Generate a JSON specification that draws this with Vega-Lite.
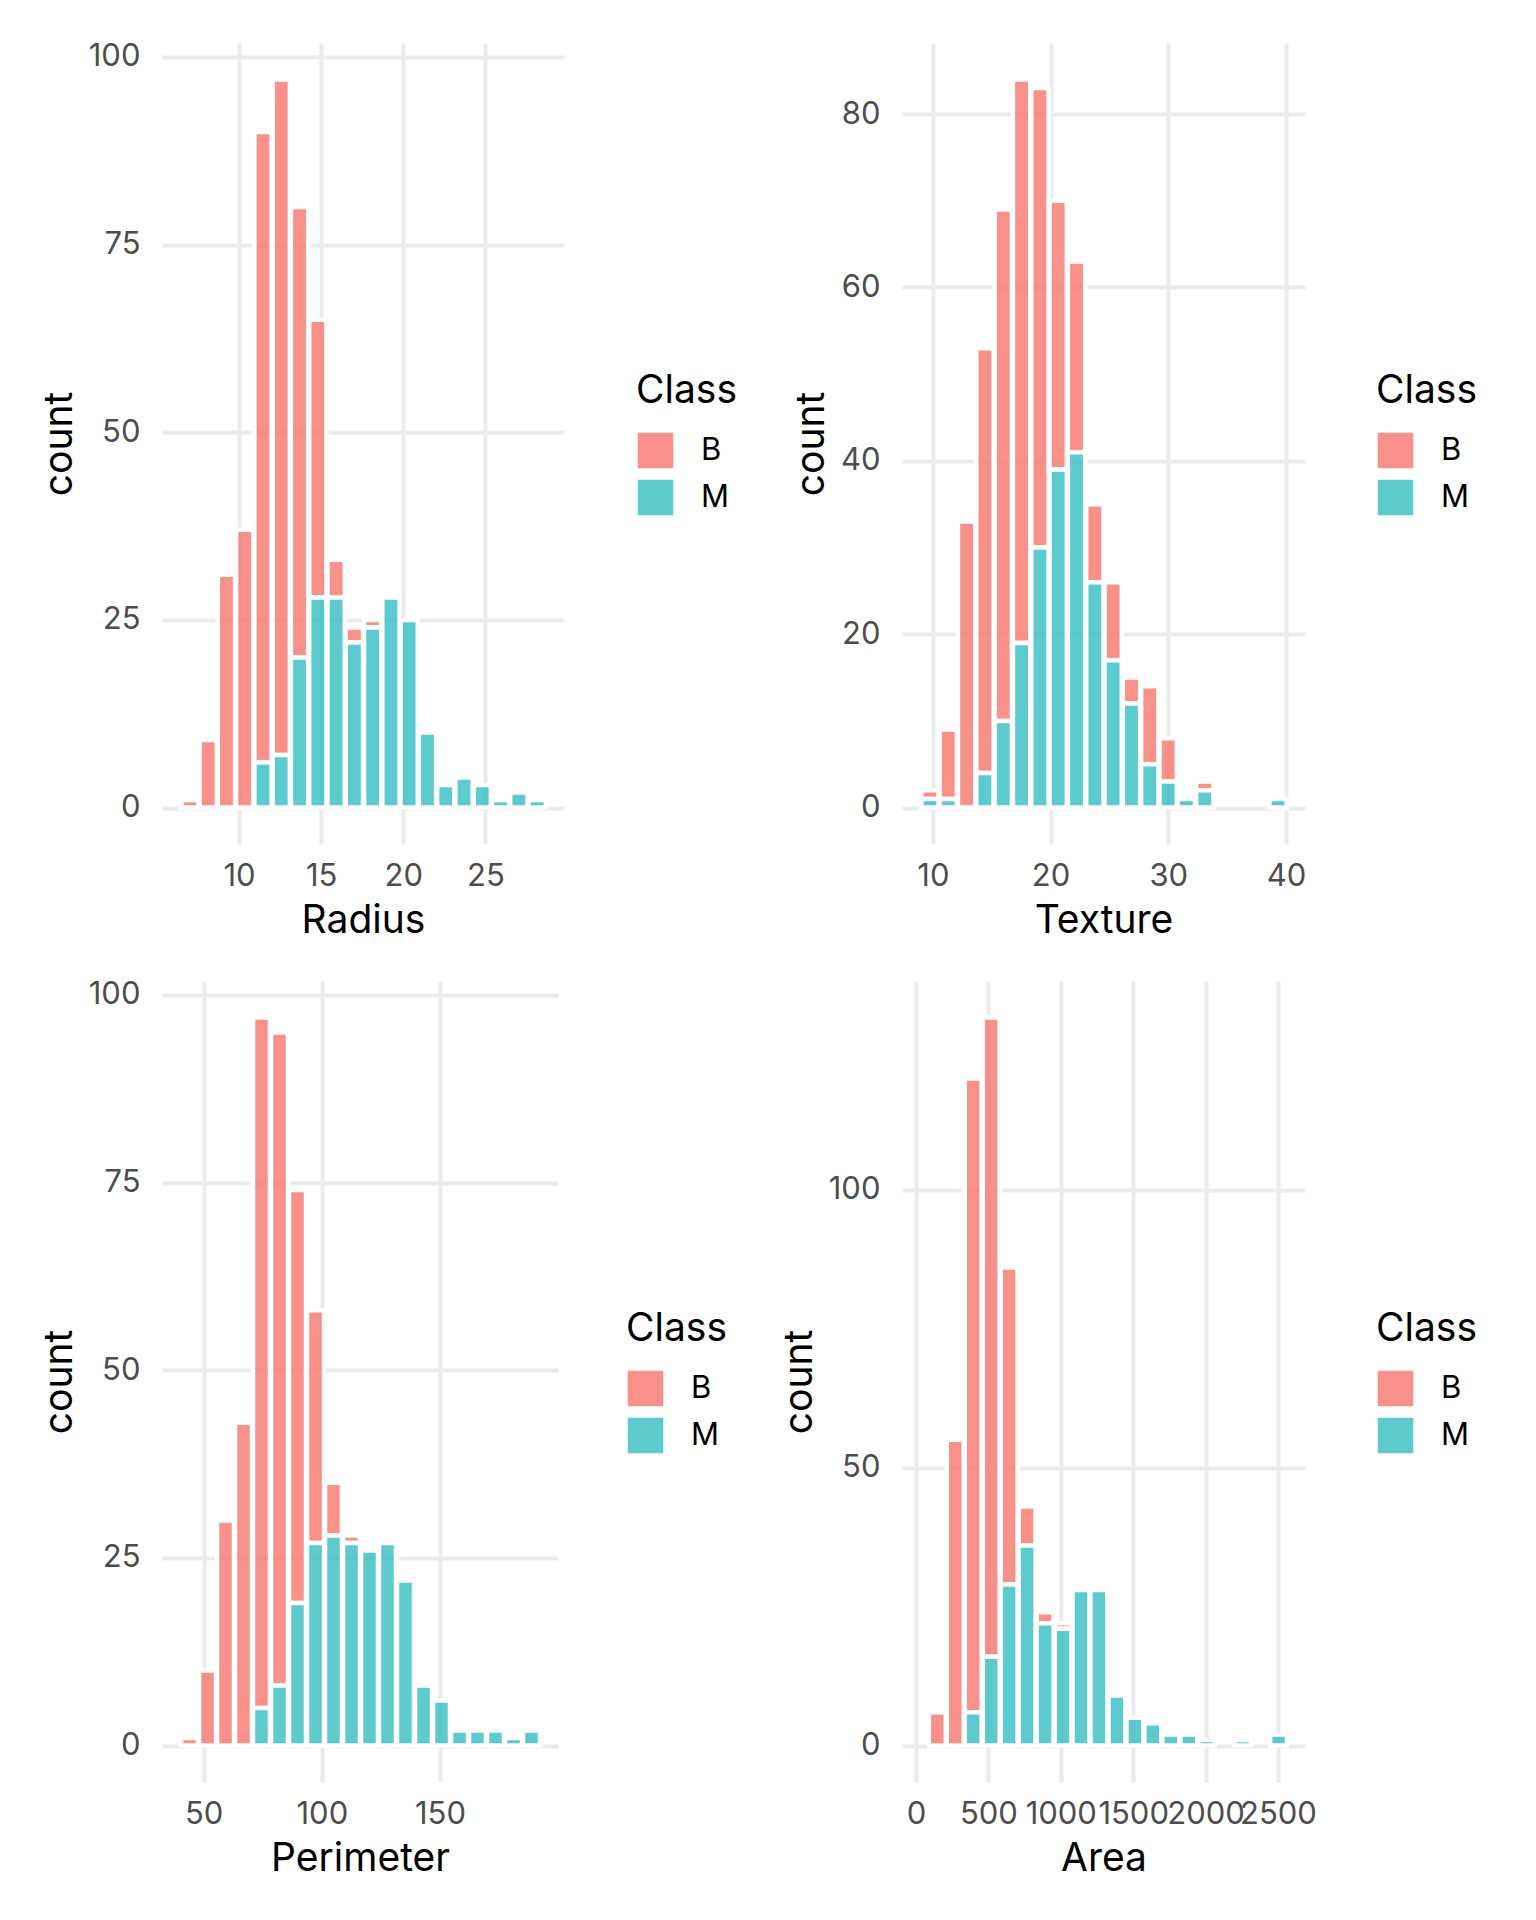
{
  "$schema": "https://vega.github.io/schema/vega-lite/v6.json",
  "background": "white",
  "padding": {"left": 40, "top": 40, "right": 10, "bottom": 10},
  "datasets": {
    "hist": [
      {"variable": "Radius", "Class": "B", "bin_start": 6.425, "bin_end": 7.537, "count": 1},
      {"variable": "Radius", "Class": "B", "bin_start": 7.537, "bin_end": 8.649, "count": 9},
      {"variable": "Radius", "Class": "B", "bin_start": 8.649, "bin_end": 9.761, "count": 31},
      {"variable": "Radius", "Class": "B", "bin_start": 9.761, "bin_end": 10.873, "count": 37},
      {"variable": "Radius", "Class": "B", "bin_start": 10.873, "bin_end": 11.985, "count": 84},
      {"variable": "Radius", "Class": "B", "bin_start": 11.985, "bin_end": 13.097, "count": 90},
      {"variable": "Radius", "Class": "B", "bin_start": 13.097, "bin_end": 14.209, "count": 60},
      {"variable": "Radius", "Class": "B", "bin_start": 14.209, "bin_end": 15.321, "count": 37},
      {"variable": "Radius", "Class": "B", "bin_start": 15.321, "bin_end": 16.434, "count": 5},
      {"variable": "Radius", "Class": "B", "bin_start": 16.434, "bin_end": 17.546, "count": 2},
      {"variable": "Radius", "Class": "B", "bin_start": 17.546, "bin_end": 18.658, "count": 1},
      {"variable": "Radius", "Class": "M", "bin_start": 10.873, "bin_end": 11.985, "count": 6},
      {"variable": "Radius", "Class": "M", "bin_start": 11.985, "bin_end": 13.097, "count": 7},
      {"variable": "Radius", "Class": "M", "bin_start": 13.097, "bin_end": 14.209, "count": 20},
      {"variable": "Radius", "Class": "M", "bin_start": 14.209, "bin_end": 15.321, "count": 28},
      {"variable": "Radius", "Class": "M", "bin_start": 15.321, "bin_end": 16.434, "count": 28},
      {"variable": "Radius", "Class": "M", "bin_start": 16.434, "bin_end": 17.546, "count": 22},
      {"variable": "Radius", "Class": "M", "bin_start": 17.546, "bin_end": 18.658, "count": 24},
      {"variable": "Radius", "Class": "M", "bin_start": 18.658, "bin_end": 19.770, "count": 28},
      {"variable": "Radius", "Class": "M", "bin_start": 19.770, "bin_end": 20.882, "count": 25},
      {"variable": "Radius", "Class": "M", "bin_start": 20.882, "bin_end": 21.994, "count": 10},
      {"variable": "Radius", "Class": "M", "bin_start": 21.994, "bin_end": 23.106, "count": 3},
      {"variable": "Radius", "Class": "M", "bin_start": 23.106, "bin_end": 24.218, "count": 4},
      {"variable": "Radius", "Class": "M", "bin_start": 24.218, "bin_end": 25.330, "count": 3},
      {"variable": "Radius", "Class": "M", "bin_start": 25.330, "bin_end": 26.442, "count": 1},
      {"variable": "Radius", "Class": "M", "bin_start": 26.442, "bin_end": 27.554, "count": 2},
      {"variable": "Radius", "Class": "M", "bin_start": 27.554, "bin_end": 28.666, "count": 1},

      {"variable": "Texture", "Class": "B", "bin_start": 8.932, "bin_end": 10.488, "count": 1},
      {"variable": "Texture", "Class": "B", "bin_start": 10.488, "bin_end": 12.044, "count": 8},
      {"variable": "Texture", "Class": "B", "bin_start": 12.044, "bin_end": 13.601, "count": 33},
      {"variable": "Texture", "Class": "B", "bin_start": 13.601, "bin_end": 15.157, "count": 49},
      {"variable": "Texture", "Class": "B", "bin_start": 15.157, "bin_end": 16.713, "count": 59},
      {"variable": "Texture", "Class": "B", "bin_start": 16.713, "bin_end": 18.270, "count": 65},
      {"variable": "Texture", "Class": "B", "bin_start": 18.270, "bin_end": 19.826, "count": 53},
      {"variable": "Texture", "Class": "B", "bin_start": 19.826, "bin_end": 21.382, "count": 31},
      {"variable": "Texture", "Class": "B", "bin_start": 21.382, "bin_end": 22.939, "count": 22},
      {"variable": "Texture", "Class": "B", "bin_start": 22.939, "bin_end": 24.495, "count": 9},
      {"variable": "Texture", "Class": "B", "bin_start": 24.495, "bin_end": 26.051, "count": 9},
      {"variable": "Texture", "Class": "B", "bin_start": 26.051, "bin_end": 27.608, "count": 3},
      {"variable": "Texture", "Class": "B", "bin_start": 27.608, "bin_end": 29.164, "count": 9},
      {"variable": "Texture", "Class": "B", "bin_start": 29.164, "bin_end": 30.720, "count": 5},
      {"variable": "Texture", "Class": "B", "bin_start": 32.277, "bin_end": 33.833, "count": 1},
      {"variable": "Texture", "Class": "M", "bin_start": 8.932, "bin_end": 10.488, "count": 1},
      {"variable": "Texture", "Class": "M", "bin_start": 10.488, "bin_end": 12.044, "count": 1},
      {"variable": "Texture", "Class": "M", "bin_start": 13.601, "bin_end": 15.157, "count": 4},
      {"variable": "Texture", "Class": "M", "bin_start": 15.157, "bin_end": 16.713, "count": 10},
      {"variable": "Texture", "Class": "M", "bin_start": 16.713, "bin_end": 18.270, "count": 19},
      {"variable": "Texture", "Class": "M", "bin_start": 18.270, "bin_end": 19.826, "count": 30},
      {"variable": "Texture", "Class": "M", "bin_start": 19.826, "bin_end": 21.382, "count": 39},
      {"variable": "Texture", "Class": "M", "bin_start": 21.382, "bin_end": 22.939, "count": 41},
      {"variable": "Texture", "Class": "M", "bin_start": 22.939, "bin_end": 24.495, "count": 26},
      {"variable": "Texture", "Class": "M", "bin_start": 24.495, "bin_end": 26.051, "count": 17},
      {"variable": "Texture", "Class": "M", "bin_start": 26.051, "bin_end": 27.608, "count": 12},
      {"variable": "Texture", "Class": "M", "bin_start": 27.608, "bin_end": 29.164, "count": 5},
      {"variable": "Texture", "Class": "M", "bin_start": 29.164, "bin_end": 30.720, "count": 3},
      {"variable": "Texture", "Class": "M", "bin_start": 30.720, "bin_end": 32.277, "count": 1},
      {"variable": "Texture", "Class": "M", "bin_start": 32.277, "bin_end": 33.833, "count": 2},
      {"variable": "Texture", "Class": "M", "bin_start": 38.502, "bin_end": 40.058, "count": 1},

      {"variable": "Perimeter", "Class": "B", "bin_start": 39.982, "bin_end": 47.598, "count": 1},
      {"variable": "Perimeter", "Class": "B", "bin_start": 47.598, "bin_end": 55.215, "count": 10},
      {"variable": "Perimeter", "Class": "B", "bin_start": 55.215, "bin_end": 62.831, "count": 30},
      {"variable": "Perimeter", "Class": "B", "bin_start": 62.831, "bin_end": 70.447, "count": 43},
      {"variable": "Perimeter", "Class": "B", "bin_start": 70.447, "bin_end": 78.064, "count": 92},
      {"variable": "Perimeter", "Class": "B", "bin_start": 78.064, "bin_end": 85.680, "count": 87},
      {"variable": "Perimeter", "Class": "B", "bin_start": 85.680, "bin_end": 93.296, "count": 55},
      {"variable": "Perimeter", "Class": "B", "bin_start": 93.296, "bin_end": 100.912, "count": 31},
      {"variable": "Perimeter", "Class": "B", "bin_start": 100.912, "bin_end": 108.529, "count": 7},
      {"variable": "Perimeter", "Class": "B", "bin_start": 108.529, "bin_end": 116.145, "count": 1},
      {"variable": "Perimeter", "Class": "M", "bin_start": 70.447, "bin_end": 78.064, "count": 5},
      {"variable": "Perimeter", "Class": "M", "bin_start": 78.064, "bin_end": 85.680, "count": 8},
      {"variable": "Perimeter", "Class": "M", "bin_start": 85.680, "bin_end": 93.296, "count": 19},
      {"variable": "Perimeter", "Class": "M", "bin_start": 93.296, "bin_end": 100.912, "count": 27},
      {"variable": "Perimeter", "Class": "M", "bin_start": 100.912, "bin_end": 108.529, "count": 28},
      {"variable": "Perimeter", "Class": "M", "bin_start": 108.529, "bin_end": 116.145, "count": 27},
      {"variable": "Perimeter", "Class": "M", "bin_start": 116.145, "bin_end": 123.761, "count": 26},
      {"variable": "Perimeter", "Class": "M", "bin_start": 123.761, "bin_end": 131.378, "count": 27},
      {"variable": "Perimeter", "Class": "M", "bin_start": 131.378, "bin_end": 138.994, "count": 22},
      {"variable": "Perimeter", "Class": "M", "bin_start": 138.994, "bin_end": 146.610, "count": 8},
      {"variable": "Perimeter", "Class": "M", "bin_start": 146.610, "bin_end": 154.227, "count": 6},
      {"variable": "Perimeter", "Class": "M", "bin_start": 154.227, "bin_end": 161.843, "count": 2},
      {"variable": "Perimeter", "Class": "M", "bin_start": 161.843, "bin_end": 169.459, "count": 2},
      {"variable": "Perimeter", "Class": "M", "bin_start": 169.459, "bin_end": 177.075, "count": 2},
      {"variable": "Perimeter", "Class": "M", "bin_start": 177.075, "bin_end": 184.692, "count": 1},
      {"variable": "Perimeter", "Class": "M", "bin_start": 184.692, "bin_end": 192.308, "count": 2},

      {"variable": "Area", "Class": "B", "bin_start": 81.46, "bin_end": 205.54, "count": 6},
      {"variable": "Area", "Class": "B", "bin_start": 205.54, "bin_end": 329.62, "count": 55},
      {"variable": "Area", "Class": "B", "bin_start": 329.62, "bin_end": 453.70, "count": 114},
      {"variable": "Area", "Class": "B", "bin_start": 453.70, "bin_end": 577.78, "count": 115},
      {"variable": "Area", "Class": "B", "bin_start": 577.78, "bin_end": 701.86, "count": 57},
      {"variable": "Area", "Class": "B", "bin_start": 701.86, "bin_end": 825.93, "count": 7},
      {"variable": "Area", "Class": "B", "bin_start": 825.93, "bin_end": 950.01, "count": 2},
      {"variable": "Area", "Class": "B", "bin_start": 950.01, "bin_end": 1074.09, "count": 1},
      {"variable": "Area", "Class": "M", "bin_start": 329.62, "bin_end": 453.70, "count": 6},
      {"variable": "Area", "Class": "M", "bin_start": 453.70, "bin_end": 577.78, "count": 16},
      {"variable": "Area", "Class": "M", "bin_start": 577.78, "bin_end": 701.86, "count": 29},
      {"variable": "Area", "Class": "M", "bin_start": 701.86, "bin_end": 825.93, "count": 36},
      {"variable": "Area", "Class": "M", "bin_start": 825.93, "bin_end": 950.01, "count": 22},
      {"variable": "Area", "Class": "M", "bin_start": 950.01, "bin_end": 1074.09, "count": 21},
      {"variable": "Area", "Class": "M", "bin_start": 1074.09, "bin_end": 1198.17, "count": 28},
      {"variable": "Area", "Class": "M", "bin_start": 1198.17, "bin_end": 1322.25, "count": 28},
      {"variable": "Area", "Class": "M", "bin_start": 1322.25, "bin_end": 1446.33, "count": 9},
      {"variable": "Area", "Class": "M", "bin_start": 1446.33, "bin_end": 1570.41, "count": 5},
      {"variable": "Area", "Class": "M", "bin_start": 1570.41, "bin_end": 1694.49, "count": 4},
      {"variable": "Area", "Class": "M", "bin_start": 1694.49, "bin_end": 1818.57, "count": 2},
      {"variable": "Area", "Class": "M", "bin_start": 1818.57, "bin_end": 1942.65, "count": 2},
      {"variable": "Area", "Class": "M", "bin_start": 1942.65, "bin_end": 2066.73, "count": 1},
      {"variable": "Area", "Class": "M", "bin_start": 2190.80, "bin_end": 2314.88, "count": 1},
      {"variable": "Area", "Class": "M", "bin_start": 2438.96, "bin_end": 2563.04, "count": 2}
    ]
  },
  "data": {"name": "hist"},
  "columns": 2,
  "spacing": {"row": 137, "column": 338},
  "bounds": "flush",
  "concat": [
    {
      "width": 402,
      "height": 801,
      "transform": [{"filter": "datum.variable === 'Radius'"}],
      "layer": [
        {
          "mark": {"type": "bar", "stroke": "white", "strokeWidth": 4.5, "fillOpacity": 0.8},
          "encoding": {
            "x": {"field": "bin_start", "type": "quantitative", "bin": "binned",
              "scale": {"domain": [5.313, 29.778], "nice": false, "zero": false},
              "axis": {"title": "Radius", "values": [10, 15, 20, 25], "format": "d"}},
            "x2": {"field": "bin_end"},
            "y": {"field": "count", "type": "quantitative", "stack": "zero",
              "scale": {"domain": [-4.85, 101.85], "nice": false, "zero": false},
              "axis": {"title": "count", "values": [0, 25, 50, 75, 100], "format": "d"}},
            "color": {"field": "Class", "type": "nominal",
              "scale": {"domain": ["B", "M"], "range": ["#F8766D", "#35BEC2"]},
              "legend": {"title": "Class", "orient": "none", "legendX": 474, "legendY": 329}},
            "order": {"field": "Class", "sort": "descending"}
          }
        },
        {
          "mark": {"type": "bar", "opacity": 0},
          "encoding": {
            "x": {"field": "bin_start", "type": "quantitative", "bin": "binned",
              "axis": {"values": [7.5, 12.5, 17.5, 22.5, 27.5], "labels": false, "title": null, "gridWidth": 2, "orient": "bottom", "minExtent": 0}},
            "x2": {"field": "bin_end"},
            "y": {"field": "count", "type": "quantitative", "stack": null,
              "axis": {"values": [12.5, 37.5, 62.5, 87.5], "labels": false, "title": null, "gridWidth": 2, "orient": "left", "minExtent": 0}}
          }
        }
      ],
      "resolve": {"axis": {"x": "independent", "y": "independent"}}
    },
    {
      "width": 403,
      "height": 801,
      "transform": [{"filter": "datum.variable === 'Texture'"}],
      "layer": [
        {
          "mark": {"type": "bar", "stroke": "white", "strokeWidth": 4.5, "fillOpacity": 0.8},
          "encoding": {
            "x": {"field": "bin_start", "type": "quantitative", "bin": "binned",
              "scale": {"domain": [7.376, 41.614], "nice": false, "zero": false},
              "axis": {"title": "Texture", "values": [10, 20, 30, 40], "format": "d"}},
            "x2": {"field": "bin_end"},
            "y": {"field": "count", "type": "quantitative", "stack": "zero",
              "scale": {"domain": [-4.2, 88.2], "nice": false, "zero": false},
              "axis": {"title": "count", "values": [0, 20, 40, 60, 80], "format": "d"}},
            "color": {"field": "Class", "type": "nominal",
              "scale": {"domain": ["B", "M"], "range": ["#F8766D", "#35BEC2"]},
              "legend": {"title": "Class", "orient": "none", "legendX": 474, "legendY": 329}},
            "order": {"field": "Class", "sort": "descending"}
          }
        },
        {
          "mark": {"type": "bar", "opacity": 0},
          "encoding": {
            "x": {"field": "bin_start", "type": "quantitative", "bin": "binned",
              "axis": {"values": [15, 25, 35], "labels": false, "title": null, "gridWidth": 2, "orient": "bottom", "minExtent": 0}},
            "x2": {"field": "bin_end"},
            "y": {"field": "count", "type": "quantitative", "stack": null,
              "axis": {"values": [10, 30, 50, 70], "labels": false, "title": null, "gridWidth": 2, "orient": "left", "minExtent": 0}}
          }
        }
      ],
      "resolve": {"axis": {"x": "independent", "y": "independent"}}
    },
    {
      "width": 396,
      "height": 801,
      "transform": [{"filter": "datum.variable === 'Perimeter'"}],
      "layer": [
        {
          "mark": {"type": "bar", "stroke": "white", "strokeWidth": 4.5, "fillOpacity": 0.8},
          "encoding": {
            "x": {"field": "bin_start", "type": "quantitative", "bin": "binned",
              "scale": {"domain": [32.366, 199.924], "nice": false, "zero": false},
              "axis": {"title": "Perimeter", "values": [50, 100, 150], "format": "d"}},
            "x2": {"field": "bin_end"},
            "y": {"field": "count", "type": "quantitative", "stack": "zero",
              "scale": {"domain": [-4.85, 101.85], "nice": false, "zero": false},
              "axis": {"title": "count", "values": [0, 25, 50, 75, 100], "format": "d"}},
            "color": {"field": "Class", "type": "nominal",
              "scale": {"domain": ["B", "M"], "range": ["#F8766D", "#35BEC2"]},
              "legend": {"title": "Class", "orient": "none", "legendX": 464, "legendY": 329}},
            "order": {"field": "Class", "sort": "descending"}
          }
        },
        {
          "mark": {"type": "bar", "opacity": 0},
          "encoding": {
            "x": {"field": "bin_start", "type": "quantitative", "bin": "binned",
              "axis": {"values": [75, 125, 175], "labels": false, "title": null, "gridWidth": 2, "orient": "bottom", "minExtent": 0}},
            "x2": {"field": "bin_end"},
            "y": {"field": "count", "type": "quantitative", "stack": null,
              "axis": {"values": [12.5, 37.5, 62.5, 87.5], "labels": false, "title": null, "gridWidth": 2, "orient": "left", "minExtent": 0}}
          }
        }
      ],
      "resolve": {"axis": {"x": "independent", "y": "independent"}}
    },
    {
      "width": 403,
      "height": 801,
      "transform": [{"filter": "datum.variable === 'Area'"}],
      "layer": [
        {
          "mark": {"type": "bar", "stroke": "white", "strokeWidth": 4.5, "fillOpacity": 0.8},
          "encoding": {
            "x": {"field": "bin_start", "type": "quantitative", "bin": "binned",
              "scale": {"domain": [-97.0, 2687.12], "nice": false, "zero": false},
              "axis": {"title": "Area", "values": [0, 500, 1000, 1500, 2000, 2500], "format": "d"}},
            "x2": {"field": "bin_end"},
            "y": {"field": "count", "type": "quantitative", "stack": "zero",
              "scale": {"domain": [-6.55, 137.55], "nice": false, "zero": false},
              "axis": {"title": "count", "values": [0, 50, 100], "format": "d"}},
            "color": {"field": "Class", "type": "nominal",
              "scale": {"domain": ["B", "M"], "range": ["#F8766D", "#35BEC2"]},
              "legend": {"title": "Class", "orient": "none", "legendX": 474, "legendY": 329}},
            "order": {"field": "Class", "sort": "descending"}
          }
        },
        {
          "mark": {"type": "bar", "opacity": 0},
          "encoding": {
            "x": {"field": "bin_start", "type": "quantitative", "bin": "binned",
              "axis": {"values": [250, 750, 1250, 1750, 2250], "labels": false, "title": null, "gridWidth": 2, "orient": "bottom", "minExtent": 0}},
            "x2": {"field": "bin_end"},
            "y": {"field": "count", "type": "quantitative", "stack": null,
              "axis": {"values": [25, 75, 125], "labels": false, "title": null, "gridWidth": 2, "orient": "left", "minExtent": 0}}
          }
        }
      ],
      "resolve": {"axis": {"x": "independent", "y": "independent"}}
    }
  ],
  "resolve": {"scale": {"color": "independent"}, "legend": {"color": "independent"}},
  "config": {
    "font": "Inter",
    "view": {"stroke": null},
    "axis": {
      "domain": false,
      "ticks": false,
      "grid": true,
      "gridColor": "#EBEBEB",
      "gridWidth": 4,
      "labelFont": "Inter",
      "labelFontSize": 31,
      "labelColor": "#4D4D4D",
      "labelOverlap": false,
      "labelFlush": false,
      "titleFont": "Inter",
      "titleFontSize": 39,
      "titleFontWeight": "normal",
      "titleColor": "#000000"
    },
    "axisX": {"labelPadding": 17, "titlePadding": 10},
    "axisY": {"labelPadding": 22, "titlePadding": 9},
    "legend": {
      "padding": 0,
      "titleFont": "Inter",
      "titleFontSize": 39,
      "titleFontWeight": "normal",
      "titleColor": "#000000",
      "titlePadding": 20,
      "labelFont": "Inter",
      "labelFontSize": 31,
      "labelColor": "#000000",
      "labelOffset": 26,
      "symbolType": "square",
      "symbolSize": 1369,
      "symbolOpacity": 0.8,
      "symbolStrokeColor": "white",
      "symbolStrokeWidth": 1.5,
      "rowPadding": 4
    }
  }
}
